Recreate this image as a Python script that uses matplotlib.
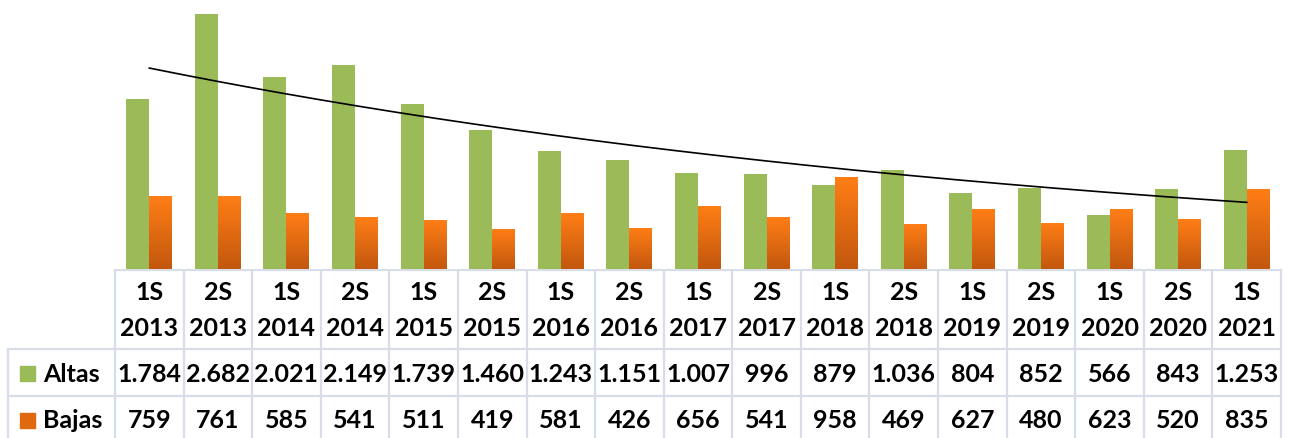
import numpy as np
import matplotlib
matplotlib.use("Agg")
import matplotlib.pyplot as plt
from matplotlib.patches import Rectangle
from matplotlib.colors import LinearSegmentedColormap

# ---- data ----
semesters = ["1S", "2S", "1S", "2S", "1S", "2S", "1S", "2S", "1S", "2S", "1S", "2S", "1S", "2S", "1S", "2S", "1S"]
years = ["2013", "2013", "2014", "2014", "2015", "2015", "2016", "2016", "2017", "2017",
         "2018", "2018", "2019", "2019", "2020", "2020", "2021"]
altas = [1784, 2682, 2021, 2149, 1739, 1460, 1243, 1151, 1007, 996, 879, 1036, 804, 852, 566, 843, 1253]
bajas = [759, 761, 585, 541, 511, 419, 581, 426, 656, 541, 958, 469, 627, 480, 623, 520, 835]
series_names = ["Altas", "Bajas"]

GREEN = "#9BBB59"
OR_TOP = "#FF7E16"
OR_BOT = "#C2570E"
GRID = "#D8DDE7"
FONT = "Lato"
WEIGHT = "bold"

W, H = 1292, 439
fig = plt.figure(figsize=(W / 100, H / 100), dpi=100)

# pixel geometry
x0, x1 = 115, 1281
base = 270
n = len(altas)
cw = (x1 - x0) / n

ax = fig.add_axes([x0 / W, (H - base) / H, (x1 - x0) / W, base / H])
ax.axis("off")

x = np.arange(n)
bw = 0.335
ax.bar(x - bw / 2, altas, width=bw, color=GREEN, zorder=2)
obars = ax.bar(x + bw / 2, bajas, width=bw, color="none", zorder=2)

# gradient fill for orange bars
cmap = LinearSegmentedColormap.from_list("or", [OR_BOT, OR_TOP])
grad = np.linspace(0, 1, 256).reshape(-1, 1)
for b in obars:
    bx, by = b.get_x(), b.get_y()
    bwid, bh = b.get_width(), b.get_height()
    ax.imshow(grad, extent=[bx, bx + bwid, by, by + bh], origin="lower",
              cmap=cmap, aspect="auto", zorder=2, interpolation="bilinear")
ax.set_xlim(-0.5, n - 0.5)
ax.set_ylim(0, 2682 * base / 255)

# exponential trendline on Altas
xi = np.arange(1, n + 1)
coef = np.polyfit(xi, np.log(altas), 1)
xf = np.linspace(1, n, 200)
ax.plot(xf - 1, np.exp(np.polyval(coef, xf)), color="black", lw=1.2, zorder=3)

# ---- table ----
lab_left = 8
tax = fig.add_axes([0, 0, 1, (H - base) / H])
tax.set_xlim(-0.5 - x0 / cw, -0.5 + (W - x0) / cw)
tax.set_ylim(H, base)
tax.axis("off")
ll = -0.5 - (x0 - lab_left) / cw

lw = 1.6
tax.plot([-0.5, n - 0.5], [base + 1, base + 1], color=GRID, lw=lw)
for yy in (350, 397):
    tax.plot([ll, n - 0.5], [yy, yy], color=GRID, lw=lw)
for k in range(n + 1):
    tax.plot([-0.5 + k, -0.5 + k], [base, H], color=GRID, lw=lw)
tax.plot([ll, ll], [350, H], color=GRID, lw=lw)

fs = 18
def fmt(v):
    return f"{v:,}".replace(",", ".")

kw = dict(ha="center", va="center", fontsize=fs, fontweight=WEIGHT, family=FONT)
for i in range(n):
    tax.text(i, 293, semesters[i], **kw)
    tax.text(i, 328, years[i], **kw)
    tax.text(i, 375, fmt(altas[i]), **kw)
    tax.text(i, 421, fmt(bajas[i]), **kw)

# row labels with legend keys
def px2x(p):
    return -0.5 + (p - x0) / cw
sq = 15
tax.add_patch(Rectangle((px2x(20), 367), sq / cw, sq, color=GREEN))
tax.add_patch(Rectangle((px2x(20), 414), sq / cw, sq, color="#E0680E"))
kw2 = dict(ha="left", va="center", fontsize=fs, fontweight=WEIGHT, family=FONT)
tax.text(px2x(43), 375, series_names[0], **kw2)
tax.text(px2x(43), 421, series_names[1], **kw2)

fig.savefig("out.png", dpi=100, facecolor="white")
